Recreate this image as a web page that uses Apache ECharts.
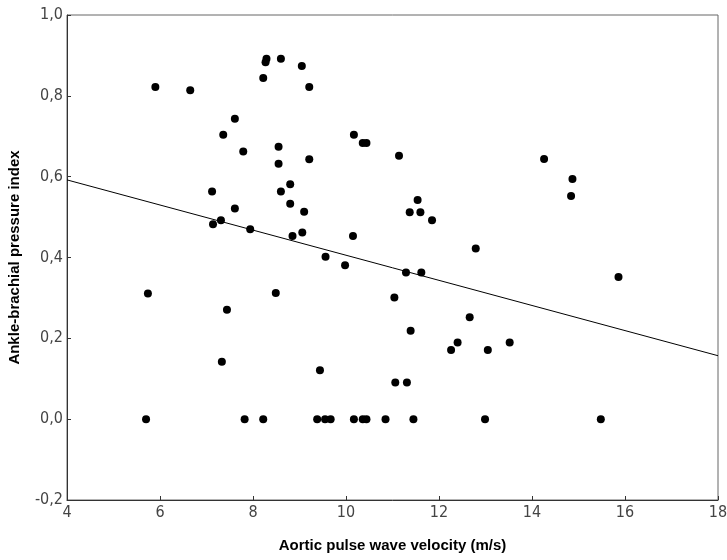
<!DOCTYPE html>
<html>
<head>
<meta charset="utf-8">
<script src="https://cdn.jsdelivr.net/npm/echarts@6/dist/echarts.min.js"></script>
<style>
html,body{margin:0;padding:0;background:#fff;}
#c{width:727px;height:560px;}
</style>
</head>
<body>
<div id="c"></div>
<script>
// Data
var pwv = [5.70,5.74,5.90,6.65,7.12,7.14,7.31,7.33,7.36,7.44,7.61,7.61,7.79,7.82,7.94,
  8.22,8.22,8.27,8.29,8.49,8.55,8.55,8.60,8.60,8.80,8.80,8.85,9.05,9.06,9.10,9.21,9.21,
  9.38,9.44,9.55,9.56,9.67,9.98,10.15,10.17,10.17,10.36,10.36,10.44,10.44,10.85,
  11.04,11.06,11.14,11.29,11.31,11.37,11.39,11.45,11.54,11.60,11.62,11.85,
  12.26,12.40,12.66,12.79,12.99,13.05,13.52,14.26,14.84,14.87,15.48,15.86];
var abi = [0.000,0.311,0.822,0.814,0.563,0.482,0.492,0.142,0.704,0.271,0.743,0.521,0.662,0.000,0.470,
  0.844,0.000,0.883,0.892,0.312,0.674,0.632,0.892,0.563,0.581,0.533,0.453,0.874,0.462,0.513,0.822,0.643,
  0.000,0.121,0.000,0.402,0.000,0.381,0.453,0.704,0.000,0.683,0.000,0.683,0.000,0.000,
  0.301,0.091,0.652,0.363,0.091,0.512,0.219,0.000,0.542,0.512,0.363,0.492,
  0.171,0.190,0.252,0.422,0.000,0.171,0.190,0.644,0.552,0.594,0.000,0.352];
var fitX = [4, 18];
var fitY = [0.592, 0.157];
var xTicks = [4, 6, 8, 10, 12, 14, 16, 18];
var yTicks = [-0.2, 0, 0.2, 0.4, 0.6, 0.8, 1.0];

var pts = pwv.map(function(x, i){ return [x, abi[i]]; });
var fit = fitX.map(function(x, i){ return [x, fitY[i]]; });

var labelFont = '"DejaVu Sans Condensed", "Liberation Sans", sans-serif';
var titleFont = '"Liberation Sans", Arial, sans-serif';
var chart = echarts.init(document.getElementById('c'), null, {renderer: 'canvas'});
chart.setOption({
  animation: false,
  backgroundColor: '#fff',
  grid: {left: 67, right: 9, top: 15, bottom: 60, show: true, borderColor: '#666', borderWidth: 1,
    containLabel: false, outerBoundsMode: 'none'},
  xAxis: {
    type: 'value', min: xTicks[0], max: xTicks[xTicks.length-1], interval: 2,
    name: 'Aortic pulse wave velocity (m/s)', nameLocation: 'middle', nameGap: 38,
    nameTextStyle: {fontFamily: titleFont, fontWeight: 'bold', fontSize: 15, color: '#000'},
    axisLine: {show: true, onZero: false, lineStyle: {color: '#333', width: 1}},
    axisTick: {show: true, inside: true, length: 4, lineStyle: {color: '#333'}},
    axisLabel: {fontFamily: labelFont, fontSize: 16, color: '#444', margin: 5},
    splitLine: {show: false}
  },
  yAxis: {
    type: 'value', min: yTicks[0], max: yTicks[yTicks.length-1], interval: 0.2,
    name: 'Ankle-brachial pressure index', nameLocation: 'middle', nameGap: 45, nameRotate: 90,
    nameTextStyle: {fontFamily: titleFont, fontWeight: 'bold', fontSize: 15, color: '#000'},
    axisLine: {show: true, onZero: false, lineStyle: {color: '#333', width: 1}},
    axisTick: {show: true, inside: true, length: 4, lineStyle: {color: '#333'}},
    axisLabel: {fontFamily: labelFont, fontSize: 16, color: '#444', margin: 4,
      formatter: function(v){ return v.toFixed(1).replace('.', ','); }},
    splitLine: {show: false}
  },
  series: [
    {type: 'scatter', data: pts, symbol: 'circle', symbolSize: 8,
      itemStyle: {color: '#000', opacity: 1}, z: 3},
    {type: 'line', data: fit, showSymbol: false, symbol: 'none',
      lineStyle: {color: '#000', width: 1}, z: 2}
  ]
});
</script>
</body>
</html>
